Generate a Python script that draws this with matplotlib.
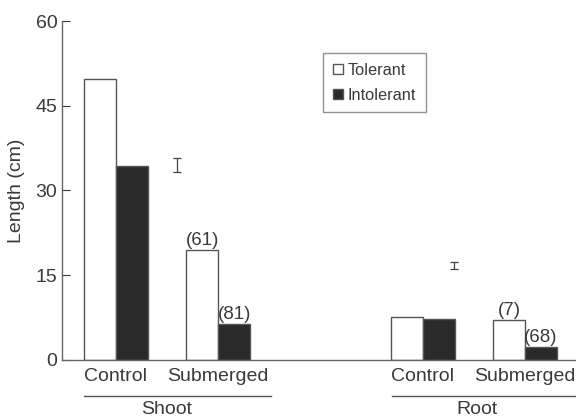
import matplotlib
matplotlib.use("Agg")
import matplotlib.pyplot as plt
import matplotlib.transforms as mtransforms
from matplotlib.patches import Patch

plt.rcParams['font.family'] = ['Liberation Sans', 'DejaVu Sans']

# data
groups = ['Shoot', 'Root']
conditions = ['Control', 'Submerged', 'Control', 'Submerged']
tolerant = [49.7, 19.5, 7.6, 7.1]
intolerant = [34.3, 6.4, 7.3, 2.3]
n_tolerant = [None, '(61)', None, '(7)']
n_intolerant = [None, '(81)', None, '(68)']
err_center = [34.5, 16.7]
err_half = [1.3, 0.6]

pos = [0, 3.2, 9.6, 12.8]
w = 1.0
edge = '#555555'
txt = '#3a3a3a'

fig = plt.figure(figsize=(5.76, 4.2), dpi=100)
ax = fig.add_axes([0.107, 0.143, 0.893, 0.807])

ax.bar([p - w / 2 for p in pos], tolerant, width=w, color='white', edgecolor=edge, linewidth=1.0, label='Tolerant')
ax.bar([p + w / 2 for p in pos], intolerant, width=w, color='#2a2a2a', edgecolor=edge, linewidth=1.0, label='Intolerant')

for i, p in enumerate(pos):
    if n_tolerant[i]:
        ax.text(p - w / 2, tolerant[i] + 0.2, n_tolerant[i], ha='center', va='bottom', fontsize=13.5, color=txt)
    if n_intolerant[i]:
        ax.text(p + w / 2, intolerant[i] + 0.2, n_intolerant[i], ha='center', va='bottom', fontsize=13.5, color=txt)

# LSD style error bars
ax.errorbar([1.9, 10.57], err_center, yerr=err_half, fmt='none', ecolor='#444444', elinewidth=0.9, capsize=3, capthick=0.9)

ax.set_xlim(-1.7, 14.4)
ax.set_ylim(0, 60)
ax.set_yticks([0, 15, 30, 45, 60])
ax.set_xticks([])
ax.set_ylabel('Length (cm)', fontsize=14, color=txt)
ax.yaxis.set_label_coords(-0.072, 0.5)
ax.tick_params(axis='y', direction='in', labelsize=14, colors=txt, length=6, width=0.8, pad=3)
for s in ['top', 'right']:
    ax.spines[s].set_visible(False)
for s in ['left', 'bottom']:
    ax.spines[s].set_color('#666666')
    ax.spines[s].set_linewidth(1.0)

trans = mtransforms.blended_transform_factory(ax.transData, ax.transAxes)
for i, p in enumerate(pos):
    ax.text(p, -0.025, conditions[i], transform=trans, ha='center', va='top', fontsize=14, color=txt)

spans = [(-1.0, 4.85), (8.65, 14.4)]
for g, (a, b) in zip(groups, spans):
    ax.plot([a, b], [-0.106, -0.106], transform=trans, color='#555555', lw=1.0, clip_on=False)
    ax.text((pos[0] + pos[1]) / 2 if g == 'Shoot' else (pos[2] + pos[3]) / 2 + 0.1, -0.122, g,
            transform=trans, ha='center', va='top', fontsize=14, color=txt)

handles = [Patch(facecolor='white', edgecolor=edge), Patch(facecolor='#2a2a2a', edgecolor=edge)]
leg = ax.legend(handles, ['Tolerant', 'Intolerant'], loc='upper left', bbox_to_anchor=(0.508, 0.906),
                fontsize=11.8, frameon=True, fancybox=False, handlelength=0.6, handleheight=0.6,
                handletextpad=0.3, borderpad=0.6, labelspacing=0.6, borderaxespad=0)
leg.get_frame().set_edgecolor('#777777')
leg.get_frame().set_linewidth(1.0)
for t in leg.get_texts():
    t.set_color(txt)

fig.savefig('out.png', dpi=100)
